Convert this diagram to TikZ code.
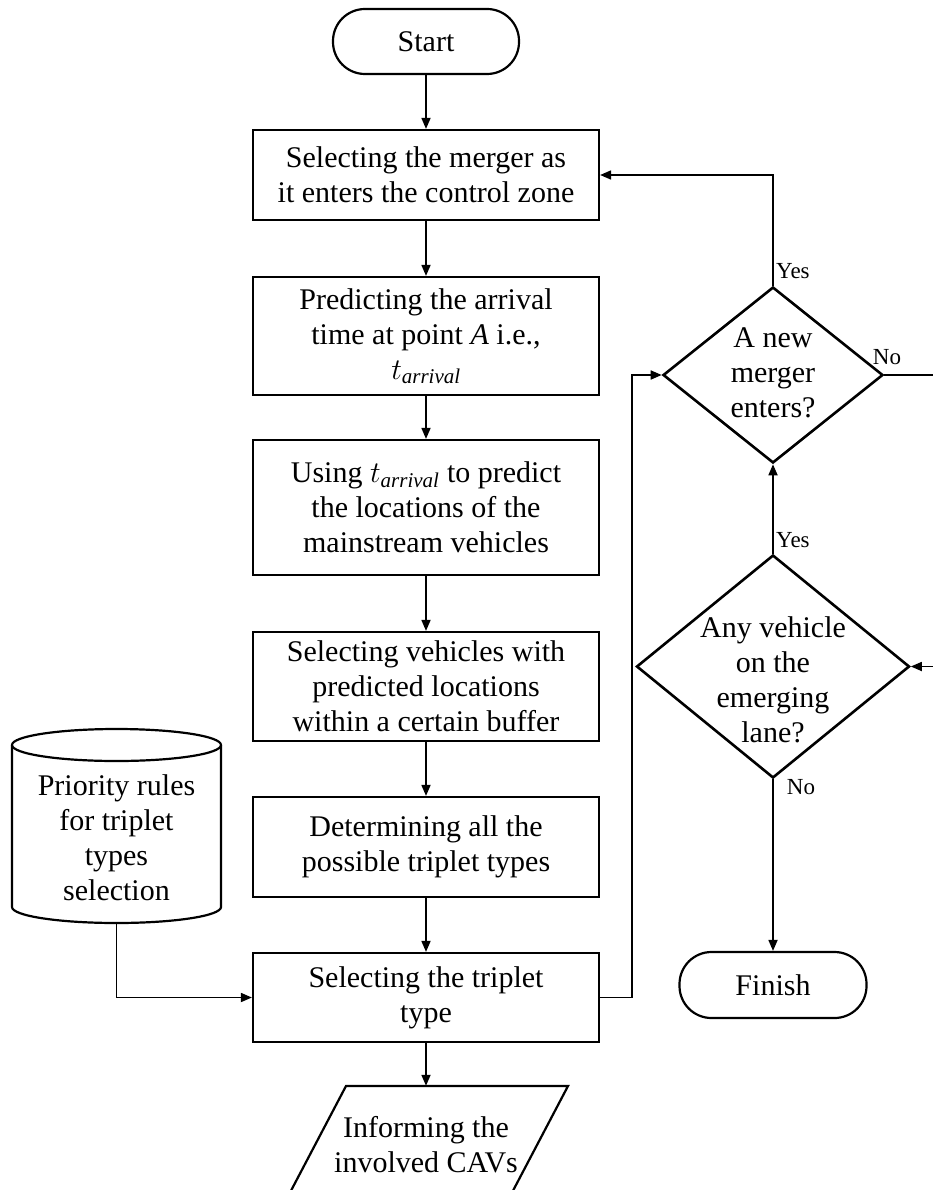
\documentclass[tikz,border=0pt]{standalone}
\usepackage{fix-cm}
\usepackage{fontspec}
\setmainfont{Liberation Serif}
\usetikzlibrary{arrows.meta,shapes.geometric}
\begin{document}
\begin{tikzpicture}[x=1pt,y=-1pt,
  every node/.style={font=\fontsize{30}{35}\selectfont, align=center, inner sep=0pt},
  proc/.style={draw, line width=2.2pt, minimum width=346pt},
  term/.style={draw, line width=2.2pt, rounded corners=32pt},
  decis/.style={draw, diamond, line width=2.6pt},
  lbl/.style={font=\fontsize{23}{26}\selectfont},
  arr/.style={line width=1.7pt, -{Triangle[length=11pt,width=9pt]}},
  shapeline/.style={line width=2.2pt}
]
\useasboundingbox (0,0) rectangle (932,1190);

% main column
\node[term, minimum width=186pt, minimum height=65pt] (start) at (426,41.5) {Start};
\node[proc, minimum height=90pt] (b1) at (426,175) {Selecting the merger as\\it enters the control zone};
\node[proc, minimum height=118pt] (b2) at (426,336) {Predicting the arrival\\time at point \textit{A} i.e.,\\$t_{\mathit{arrival}}$};
\node[proc, minimum height=135pt] (b3) at (426,507.5) {Using $t_{\mathit{arrival}}$ to predict\\the locations of the\\mainstream vehicles};
\node[proc, minimum height=109pt] (b4) at (426,686.5) {Selecting vehicles with\\predicted locations\\within a certain buffer};
\node[proc, minimum height=100pt] (b5) at (426,847) {Determining all the\\possible triplet types};
\node[proc, minimum height=89pt] (b6) at (426,997.5) {Selecting the triplet\\type};

% output parallelogram
\draw[shapeline] (346,1086) -- (568,1086) -- (506,1204) -- (284,1204) -- cycle;
\node[minimum width=222pt, minimum height=118pt] (inform) at (426,1145) {Informing the\\involved CAVs};

% database cylinder
\draw[shapeline] (12,745) -- (12,907) arc[start angle=180, end angle=0, x radius=104.5, y radius=16] -- (221,745);
\draw[shapeline] (116.5,745) ellipse [x radius=104.5, y radius=16];
\node[minimum width=209pt, minimum height=170pt] (rules) at (116.5,838) {Priority rules\\for triplet\\types\\selection};

% decisions
\node[decis, minimum width=220pt, minimum height=176pt] (d1) at (773,375) {};
\node (d1t) at (773,373) {A new\\merger\\enters?};
\node[decis, minimum width=273pt, minimum height=223pt] (d2) at (773,666.5) {};
\node (d2t) at (773,680) {Any vehicle\\on the\\emerging\\lane?};
\node[term, minimum width=187pt, minimum height=66pt] (fin) at (773,985) {Finish};

% connectors
\draw[arr] (start) -- (b1);
\draw[arr] (b1) -- (b2);
\draw[arr] (b2) -- (b3);
\draw[arr] (b3) -- (b4);
\draw[arr] (b4) -- (b5);
\draw[arr] (b5) -- (b6);
\draw[arr] (b6) -- (inform);
\draw[arr] (rules.south) |- (b6.west);
\draw[arr] (b6.east) -- ++(32,0) |- (d1.west);
\draw[arr] (d1.north) |- (b1.east);
\draw[arr] (d1.east) -- ++(60,0) |- (d2.east);
\draw[arr] (d2.north) -- (d1.south);
\draw[arr] (d2.south) -- (fin.north);

% branch labels
\node[lbl, anchor=west] (y1) at (776,271) {Yes};
\node[lbl] (n1) at (887,357) {No};
\node[lbl, anchor=west] (y2) at (776,540) {Yes};
\node[lbl] (n2) at (801,787) {No};
\end{tikzpicture}
\end{document}
